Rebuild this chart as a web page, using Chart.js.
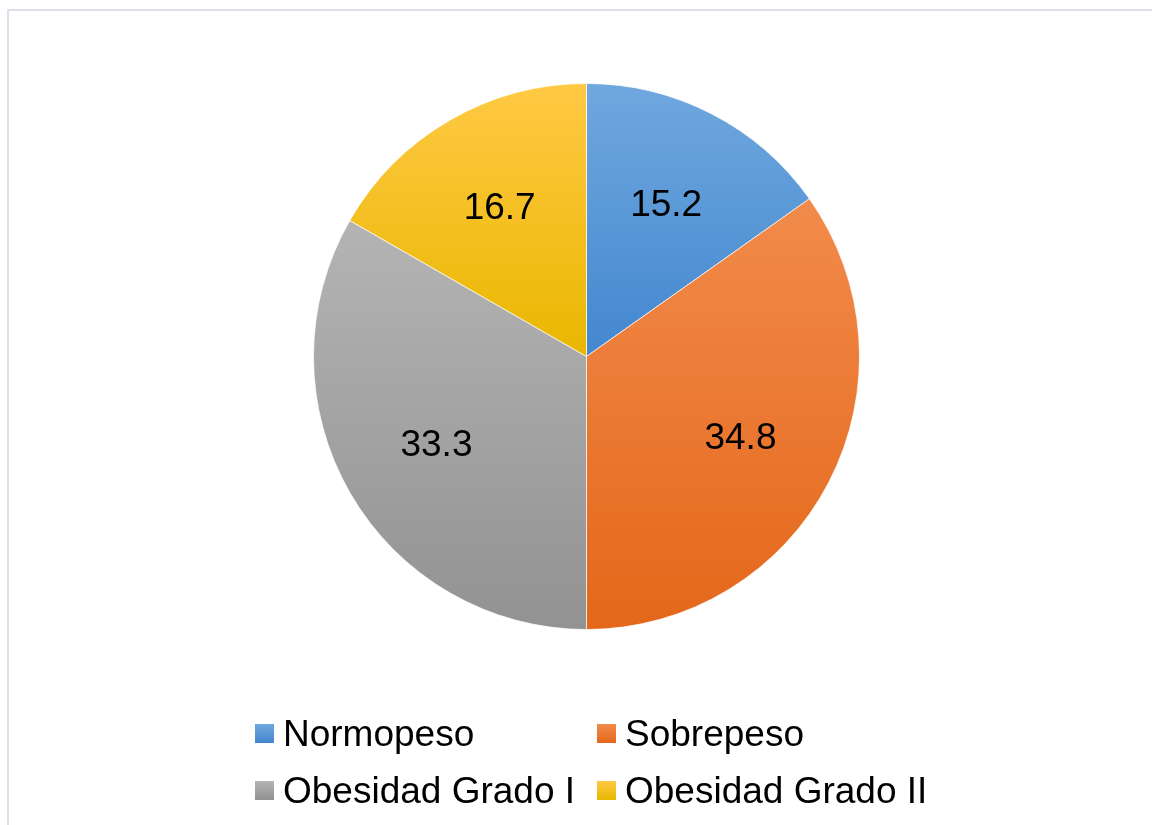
<!DOCTYPE html>
<html>
<head>
<meta charset="utf-8">
<script src="https://cdn.jsdelivr.net/npm/chart.js@4.4.1/dist/chart.umd.min.js"></script>
<style>
  html, body { margin: 0; padding: 0; background: #fff; overflow: hidden; }
  #wrap { position: relative; width: 1152px; height: 825px; }
  #frame {
    position: absolute; left: 7px; top: 9px; width: 1200px; height: 900px;
    border-left: 2px solid #dde1e7; border-top: 2px solid #dde1e7;
  }
  #pie { position: absolute; left: 0; top: 0; }
</style>
</head>
<body>
<div id="wrap">
  <div id="frame"></div>
  <canvas id="pie" width="1152" height="825"></canvas>
</div>
<script>
// data
const categories = ["Normopeso", "Sobrepeso", "Obesidad Grado I", "Obesidad Grado II"];
const values = [15.2, 34.8, 33.3, 16.7];
const valueLabels = ["15.2", "34.8", "33.3", "16.7"];

// light (top) / dark (bottom) colours of each slice
const topColors = ["#70a8de", "#f28b4b", "#b4b4b4", "#ffc944"];
const bottomColors = ["#4387cf", "#e4671a", "#929292", "#e9b700"];
const flatColors = ["#5b9bd5", "#ed7d31", "#a5a5a5", "#ffc000"];

const FONT = "'Liberation Sans', Arial, sans-serif";

// vertical extent of a slice, used for its gradient
function sliceExtent(i, cy, r) {
  const total = values.reduce((a, b) => a + b, 0);
  let start = 0;
  for (let k = 0; k < i; k++) start += values[k];
  const a0 = start / total * Math.PI * 2;
  const a1 = (start + values[i]) / total * Math.PI * 2;
  const ys = [cy, cy - r * Math.cos(a0), cy - r * Math.cos(a1)];
  if (a0 <= 0) ys.push(cy - r);
  if (a0 <= Math.PI && a1 >= Math.PI) ys.push(cy + r);
  return [Math.min(...ys), Math.max(...ys)];
}

function sliceFill(ctx) {
  const chart = ctx.chart;
  const area = chart.chartArea;
  const i = ctx.dataIndex;
  if (!area) return flatColors[i];
  const cy = (area.top + area.bottom) / 2;
  const r = Math.min(area.width, area.height) / 2;
  const [y0, y1] = sliceExtent(i, cy, r);
  const g = chart.ctx.createLinearGradient(0, y0, 0, y1);
  g.addColorStop(0, topColors[i]);
  g.addColorStop(1, bottomColors[i]);
  return g;
}

// value labels inside slices
const valueLabelPlugin = {
  id: "valueLabels",
  afterDatasetsDraw(chart) {
    const c = chart.ctx;
    const meta = chart.getDatasetMeta(0);
    c.save();
    c.font = "37px " + FONT;
    c.fillStyle = "#000";
    c.textAlign = "center";
    c.textBaseline = "alphabetic";
    meta.data.forEach((arc, i) => {
      const p = arc.getProps(["x", "y", "startAngle", "endAngle", "outerRadius"], true);
      const mid = (p.startAngle + p.endAngle) / 2;
      const rr = p.outerRadius * 0.635;
      const x = p.x + Math.cos(mid) * rr;
      const y = p.y + Math.sin(mid) * rr;
      c.fillText(valueLabels[i], x, y + 13);
    });
    c.restore();
  }
};

// two-column legend under the pie
const gridLegendPlugin = {
  id: "gridLegend",
  afterDraw(chart) {
    const c = chart.ctx;
    const area = chart.chartArea;
    const left = area.left - 58;
    const colW = 342;
    const rowTop = area.bottom + 94;
    const rowH = 57;
    const box = 19;
    c.save();
    c.font = "37px " + FONT;
    c.textBaseline = "alphabetic";
    c.textAlign = "left";
    categories.forEach((name, i) => {
      const col = i % 2, row = Math.floor(i / 2);
      const bx = left + col * colW;
      const by = rowTop + row * rowH;
      const g = c.createLinearGradient(0, by, 0, by + box);
      g.addColorStop(0, topColors[i]);
      g.addColorStop(1, bottomColors[i]);
      c.fillStyle = g;
      c.fillRect(bx, by, box, box);
      c.fillStyle = "#000";
      c.fillText(name, bx + box + 9, by + box + 3);
    });
    c.restore();
  }
};

new Chart(document.getElementById("pie"), {
  type: "pie",
  data: {
    labels: categories,
    datasets: [{
      data: values,
      backgroundColor: sliceFill,
      borderColor: "rgba(255,255,255,0.7)",
      borderWidth: 1
    }]
  },
  options: {
    responsive: false,
    animation: false,
    layout: { padding: { left: 313, right: 292, top: 83, bottom: 195 } },
    plugins: {
      legend: { display: false },
      tooltip: { enabled: false }
    }
  },
  plugins: [valueLabelPlugin, gridLegendPlugin]
});
</script>
</body>
</html>
